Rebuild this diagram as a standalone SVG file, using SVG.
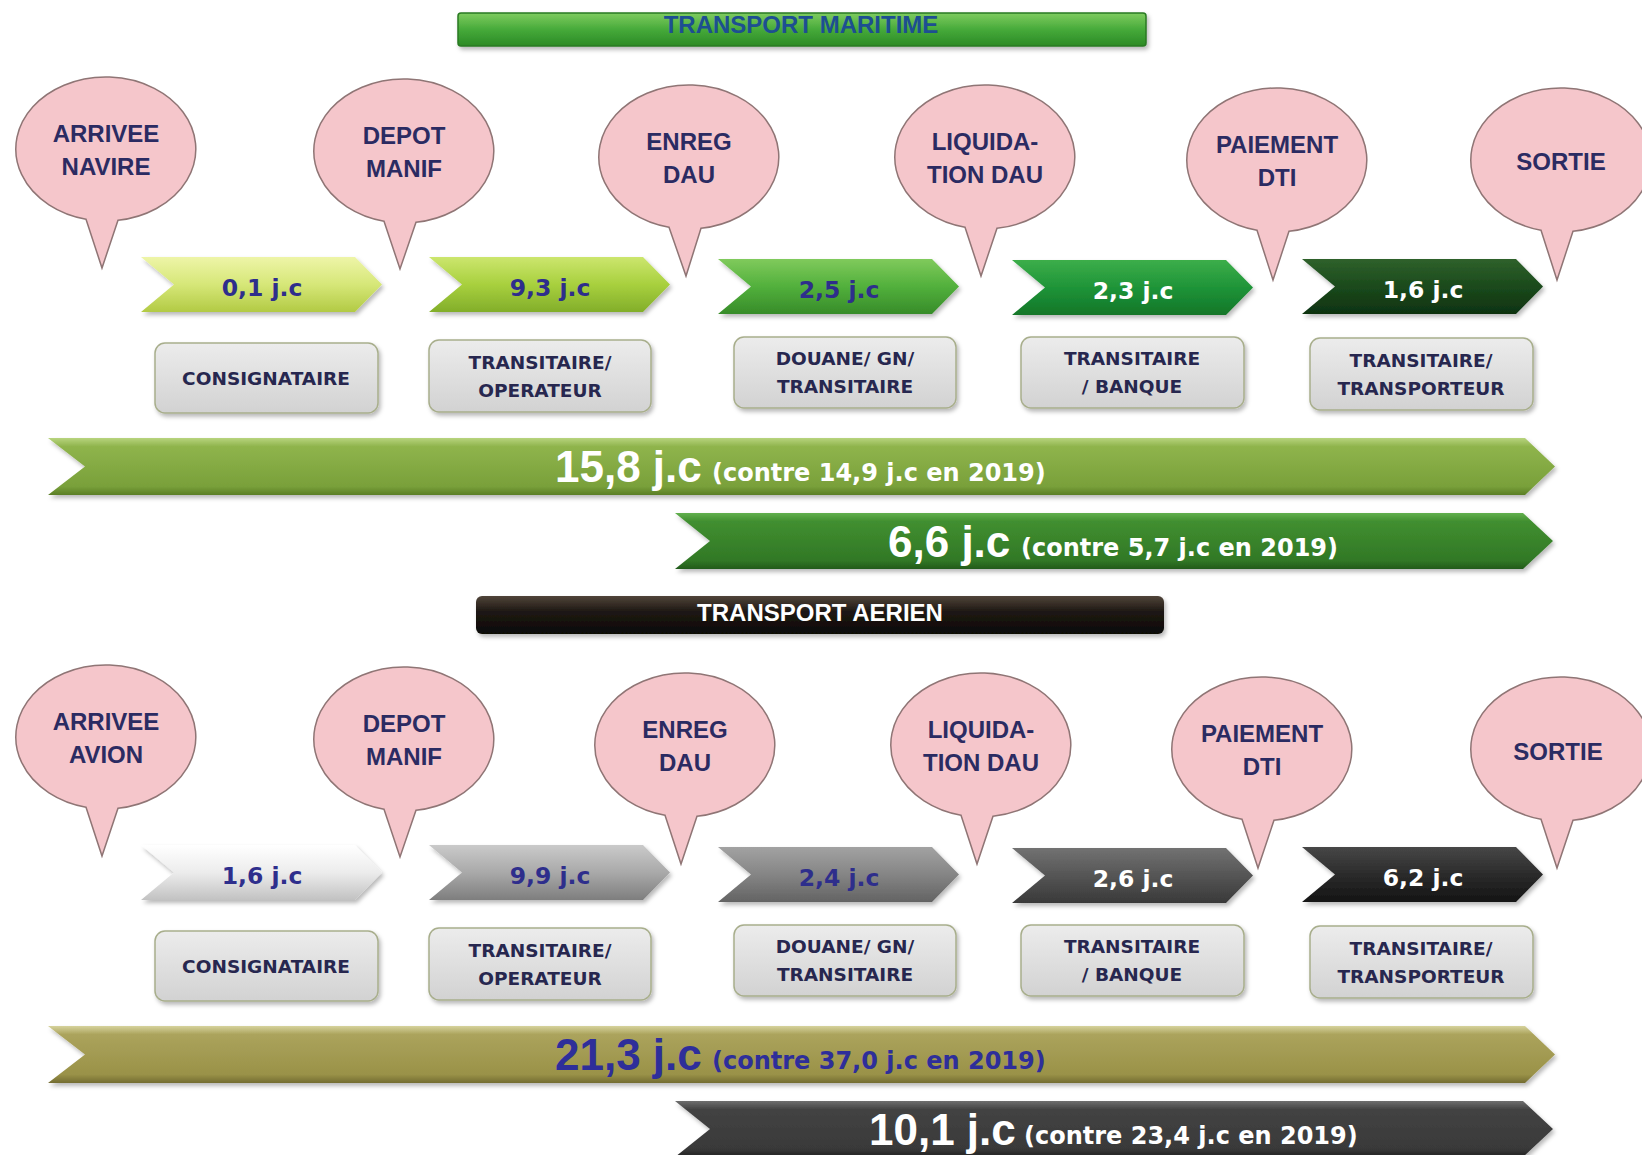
<svg xmlns="http://www.w3.org/2000/svg" xmlns:xlink="http://www.w3.org/1999/xlink" width="1642" height="1155" viewBox="0 0 1642 1155">
<style>
.bub{fill:#f5c6cb;stroke:#8f7575;stroke-width:1.5}
.bt{font-family:"Liberation Sans",Arial,sans-serif;font-weight:bold;font-size:24px;fill:#2b2b62;text-anchor:middle}
.ct{font-family:"DejaVu Sans",Verdana,sans-serif;font-weight:bold;font-size:23.5px;text-anchor:middle}
.nv{fill:#2e2e8c}
.wh{fill:#ffffff}
.box{fill:url(#gBox);stroke:#a8ae8c;stroke-width:1.5}
.xt{font-family:"DejaVu Sans",Verdana,sans-serif;font-weight:bold;font-size:18.5px;fill:#27274f;text-anchor:middle}
.big{font-family:"Liberation Sans",Arial,sans-serif;font-weight:bold;font-size:44px}
.sm{font-family:"DejaVu Sans",Verdana,sans-serif;font-weight:bold;font-size:24px}
.tt{font-family:"Liberation Sans",Arial,sans-serif;font-weight:bold;font-size:24px;text-anchor:middle}
</style>
<defs>
<filter id="sh" x="-5%" y="-20%" width="110%" height="150%">
<feDropShadow dx="2" dy="3" stdDeviation="2" flood-color="#000" flood-opacity="0.28"/>
</filter>
<polygon id="chev" points="0,0 214,0 241,27.5 214,55 0,55 33,27.5"/>
<linearGradient id="gBox" x1="0" y1="0" x2="0" y2="1"><stop offset="0" stop-color="#ececec"/><stop offset="1" stop-color="#d2d2d2"/></linearGradient>
<linearGradient id="m1" x1="0" y1="0" x2="0" y2="1"><stop offset="0" stop-color="#eef5a8"/><stop offset="0.5" stop-color="#d6e778"/><stop offset="1" stop-color="#b2ca44"/></linearGradient>
<linearGradient id="m2" x1="0" y1="0" x2="0" y2="1"><stop offset="0" stop-color="#cce66e"/><stop offset="0.5" stop-color="#a8d03e"/><stop offset="1" stop-color="#82ae2a"/></linearGradient>
<linearGradient id="m3" x1="0" y1="0" x2="0" y2="1"><stop offset="0" stop-color="#80ca5c"/><stop offset="0.5" stop-color="#52b03c"/><stop offset="1" stop-color="#378c29"/></linearGradient>
<linearGradient id="m4" x1="0" y1="0" x2="0" y2="1"><stop offset="0" stop-color="#3cae4a"/><stop offset="0.5" stop-color="#1f9438"/><stop offset="1" stop-color="#127628"/></linearGradient>
<linearGradient id="m5" x1="0" y1="0" x2="0" y2="1"><stop offset="0" stop-color="#2f612b"/><stop offset="0.5" stop-color="#1b4a1c"/><stop offset="1" stop-color="#0e3210"/></linearGradient>
<linearGradient id="a1" x1="0" y1="0" x2="0" y2="1"><stop offset="0" stop-color="#ffffff"/><stop offset="0.5" stop-color="#ececec"/><stop offset="1" stop-color="#c2c2c2"/></linearGradient>
<linearGradient id="a2" x1="0" y1="0" x2="0" y2="1"><stop offset="0" stop-color="#cacaca"/><stop offset="0.5" stop-color="#a9a9a9"/><stop offset="1" stop-color="#7e7e7e"/></linearGradient>
<linearGradient id="a3" x1="0" y1="0" x2="0" y2="1"><stop offset="0" stop-color="#a2a2a2"/><stop offset="0.5" stop-color="#858585"/><stop offset="1" stop-color="#636363"/></linearGradient>
<linearGradient id="a4" x1="0" y1="0" x2="0" y2="1"><stop offset="0" stop-color="#727272"/><stop offset="0.5" stop-color="#555555"/><stop offset="1" stop-color="#393939"/></linearGradient>
<linearGradient id="a5" x1="0" y1="0" x2="0" y2="1"><stop offset="0" stop-color="#474747"/><stop offset="0.5" stop-color="#2b2b2b"/><stop offset="1" stop-color="#141414"/></linearGradient>
<linearGradient id="LA" x1="0" y1="0" x2="0" y2="1"><stop offset="0" stop-color="#b8d47e"/><stop offset="0.15" stop-color="#8fb44c"/><stop offset="0.85" stop-color="#79a03a"/><stop offset="1" stop-color="#5a7e26"/></linearGradient>
<linearGradient id="LB" x1="0" y1="0" x2="0" y2="1"><stop offset="0" stop-color="#62b04e"/><stop offset="0.15" stop-color="#418f30"/><stop offset="0.85" stop-color="#317826"/><stop offset="1" stop-color="#235a1a"/></linearGradient>
<linearGradient id="LC" x1="0" y1="0" x2="0" y2="1"><stop offset="0" stop-color="#d6d29c"/><stop offset="0.15" stop-color="#aba35c"/><stop offset="0.85" stop-color="#9a9248"/><stop offset="1" stop-color="#736c30"/></linearGradient>
<linearGradient id="LD" x1="0" y1="0" x2="0" y2="1"><stop offset="0" stop-color="#6e6e6e"/><stop offset="0.15" stop-color="#434343"/><stop offset="0.85" stop-color="#393939"/><stop offset="1" stop-color="#222222"/></linearGradient>
<linearGradient id="T1" x1="0" y1="0" x2="0" y2="1"><stop offset="0" stop-color="#7fcc60"/><stop offset="0.5" stop-color="#46aa3a"/><stop offset="1" stop-color="#2c8a25"/></linearGradient>
<linearGradient id="T2" x1="0" y1="0" x2="0" y2="1"><stop offset="0" stop-color="#50443a"/><stop offset="0.4" stop-color="#1f1914"/><stop offset="1" stop-color="#0b0806"/></linearGradient>
</defs>
<rect width="1642" height="1155" fill="#ffffff"/>

<g id="title-maritime">
<rect x="458" y="13" width="688" height="33" rx="3" fill="url(#T1)" stroke="#2a7a22" stroke-width="1.5" filter="url(#sh)"/>
<text class="tt" x="801" y="33" fill="#1d4f91">TRANSPORT MARITIME</text>
</g>

<g id="bubble-m1"><path class="bub" d="M86,219.2 A90,72 0 1 1 118,220.3 L102,268 Z"/><text class="bt" x="106" y="142">ARRIVEE</text><text class="bt" x="106" y="175">NAVIRE</text></g>
<g id="bubble-m2"><path class="bub" d="M384,221.2 A90,72 0 1 1 416,222.3 L400,269 Z"/><text class="bt" x="404" y="144">DEPOT</text><text class="bt" x="404" y="177">MANIF</text></g>
<g id="bubble-m3"><path class="bub" d="M669,227.2 A90,72 0 1 1 701,228.3 L686,276 Z"/><text class="bt" x="689" y="150">ENREG</text><text class="bt" x="689" y="183">DAU</text></g>
<g id="bubble-m4"><path class="bub" d="M965,227.2 A90,72 0 1 1 997,228.3 L981,276 Z"/><text class="bt" x="985" y="150">LIQUIDA-</text><text class="bt" x="985" y="183">TION DAU</text></g>
<g id="bubble-m5"><path class="bub" d="M1257,230.2 A90,72 0 1 1 1289,231.3 L1273,280 Z"/><text class="bt" x="1277" y="153">PAIEMENT</text><text class="bt" x="1277" y="186">DTI</text></g>
<g id="bubble-m6"><path class="bub" d="M1541,230.2 A90,72 0 1 1 1573,231.3 L1557,280 Z"/><text class="bt" x="1561" y="170">SORTIE</text></g>

<g id="chev-m1"><use href="#chev" x="141" y="257" fill="url(#m1)" filter="url(#sh)"/><text class="ct nv" x="262" y="295.5">0,1 j.c</text></g>
<g id="chev-m2"><use href="#chev" x="429" y="257" fill="url(#m2)" filter="url(#sh)"/><text class="ct nv" x="550" y="295.5">9,3 j.c</text></g>
<g id="chev-m3"><use href="#chev" x="718" y="259" fill="url(#m3)" filter="url(#sh)"/><text class="ct nv" x="839" y="297.5">2,5 j.c</text></g>
<g id="chev-m4"><use href="#chev" x="1012" y="260" fill="url(#m4)" filter="url(#sh)"/><text class="ct wh" x="1133" y="298.5">2,3 j.c</text></g>
<g id="chev-m5"><use href="#chev" x="1302" y="259" fill="url(#m5)" filter="url(#sh)"/><text class="ct wh" x="1423" y="297.5">1,6 j.c</text></g>

<g id="box-m1"><rect class="box" x="155" y="343" width="223" height="70" rx="10" filter="url(#sh)"/><text class="xt" x="266" y="384.5">CONSIGNATAIRE</text></g>
<g id="box-m2"><rect class="box" x="429" y="340" width="222" height="72" rx="10" filter="url(#sh)"/><text class="xt" x="540" y="368.5">TRANSITAIRE/</text><text class="xt" x="540" y="396.5">OPERATEUR</text></g>
<g id="box-m3"><rect class="box" x="734" y="337" width="222" height="71" rx="10" filter="url(#sh)"/><text class="xt" x="845" y="365">DOUANE/ GN/</text><text class="xt" x="845" y="393">TRANSITAIRE</text></g>
<g id="box-m4"><rect class="box" x="1021" y="337" width="223" height="71" rx="10" filter="url(#sh)"/><text class="xt" x="1132" y="365">TRANSITAIRE</text><text class="xt" x="1132" y="393">/ BANQUE</text></g>
<g id="box-m5"><rect class="box" x="1310" y="338" width="223" height="72" rx="10" filter="url(#sh)"/><text class="xt" x="1421" y="366.5">TRANSITAIRE/</text><text class="xt" x="1421" y="394.5">TRANSPORTEUR</text></g>

<g id="total-m1"><polygon points="48,438 1525,438 1555,466.5 1525,495 48,495 85,466.5" fill="url(#LA)" filter="url(#sh)"/><text x="555" y="482" class="wh"><tspan class="big">15,8 j.c</tspan></text><text x="712" y="481" class="sm wh">(contre 14,9 j.c en 2019)</text></g>
<g id="total-m2"><polygon points="675,513 1523,513 1553,541 1523,569 675,569 710,541" fill="url(#LB)" filter="url(#sh)"/><text x="888" y="557" class="big wh">6,6 j.c</text><text x="1021" y="556" class="sm wh">(contre 5,7 j.c en 2019)</text></g>

<g id="title-aerien">
<rect x="476" y="596" width="688" height="38" rx="6" fill="url(#T2)" filter="url(#sh)"/>
<text class="tt" x="820" y="621" fill="#ffffff">TRANSPORT AERIEN</text>
</g>

<g id="bubble-a1"><path class="bub" d="M86,807.2 A90,72 0 1 1 118,808.3 L102,856 Z"/><text class="bt" x="106" y="730">ARRIVEE</text><text class="bt" x="106" y="763">AVION</text></g>
<g id="bubble-a2"><path class="bub" d="M384,809.2 A90,72 0 1 1 416,810.3 L400,857 Z"/><text class="bt" x="404" y="732">DEPOT</text><text class="bt" x="404" y="765">MANIF</text></g>
<g id="bubble-a3"><path class="bub" d="M665,815.2 A90,72 0 1 1 697,816.3 L681,864 Z"/><text class="bt" x="685" y="738">ENREG</text><text class="bt" x="685" y="771">DAU</text></g>
<g id="bubble-a4"><path class="bub" d="M961,815.2 A90,72 0 1 1 993,816.3 L977,864 Z"/><text class="bt" x="981" y="738">LIQUIDA-</text><text class="bt" x="981" y="771">TION DAU</text></g>
<g id="bubble-a5"><path class="bub" d="M1242,819.2 A90,72 0 1 1 1274,820.3 L1258,868 Z"/><text class="bt" x="1262" y="742">PAIEMENT</text><text class="bt" x="1262" y="775">DTI</text></g>
<g id="bubble-a6"><path class="bub" d="M1541,819.2 A90,72 0 1 1 1573,820.3 L1557,868 Z"/><text class="bt" x="1558" y="760">SORTIE</text></g>

<g id="chev-a1"><use href="#chev" x="141" y="845" fill="url(#a1)" filter="url(#sh)"/><text class="ct nv" x="262" y="883.5">1,6 j.c</text></g>
<g id="chev-a2"><use href="#chev" x="429" y="845" fill="url(#a2)" filter="url(#sh)"/><text class="ct nv" x="550" y="883.5">9,9 j.c</text></g>
<g id="chev-a3"><use href="#chev" x="718" y="847" fill="url(#a3)" filter="url(#sh)"/><text class="ct nv" x="839" y="885.5">2,4 j.c</text></g>
<g id="chev-a4"><use href="#chev" x="1012" y="848" fill="url(#a4)" filter="url(#sh)"/><text class="ct wh" x="1133" y="886.5">2,6 j.c</text></g>
<g id="chev-a5"><use href="#chev" x="1302" y="847" fill="url(#a5)" filter="url(#sh)"/><text class="ct wh" x="1423" y="885.5">6,2 j.c</text></g>

<g id="box-a1"><rect class="box" x="155" y="931" width="223" height="70" rx="10" filter="url(#sh)"/><text class="xt" x="266" y="972.5">CONSIGNATAIRE</text></g>
<g id="box-a2"><rect class="box" x="429" y="928" width="222" height="72" rx="10" filter="url(#sh)"/><text class="xt" x="540" y="956.5">TRANSITAIRE/</text><text class="xt" x="540" y="984.5">OPERATEUR</text></g>
<g id="box-a3"><rect class="box" x="734" y="925" width="222" height="71" rx="10" filter="url(#sh)"/><text class="xt" x="845" y="953">DOUANE/ GN/</text><text class="xt" x="845" y="981">TRANSITAIRE</text></g>
<g id="box-a4"><rect class="box" x="1021" y="925" width="223" height="71" rx="10" filter="url(#sh)"/><text class="xt" x="1132" y="953">TRANSITAIRE</text><text class="xt" x="1132" y="981">/ BANQUE</text></g>
<g id="box-a5"><rect class="box" x="1310" y="926" width="223" height="72" rx="10" filter="url(#sh)"/><text class="xt" x="1421" y="954.5">TRANSITAIRE/</text><text class="xt" x="1421" y="982.5">TRANSPORTEUR</text></g>

<g id="total-a1"><polygon points="48,1026 1525,1026 1555,1054.5 1525,1083 48,1083 85,1054.5" fill="url(#LC)" filter="url(#sh)"/><text x="555" y="1070" class="big" fill="#2e2e9a">21,3 j.c</text><text x="712" y="1069" class="sm" fill="#2e2e9a">(contre 37,0 j.c en 2019)</text></g>
<g id="total-a2"><polygon points="675,1101 1523,1101 1553,1129 1523,1157 675,1157 710,1129" fill="url(#LD)" filter="url(#sh)"/><text x="869" y="1145" class="big wh">10,1 j.c</text><text x="1024" y="1144" class="sm wh">(contre 23,4 j.c en 2019)</text></g>

<g id="connectors"></g>
</svg>
